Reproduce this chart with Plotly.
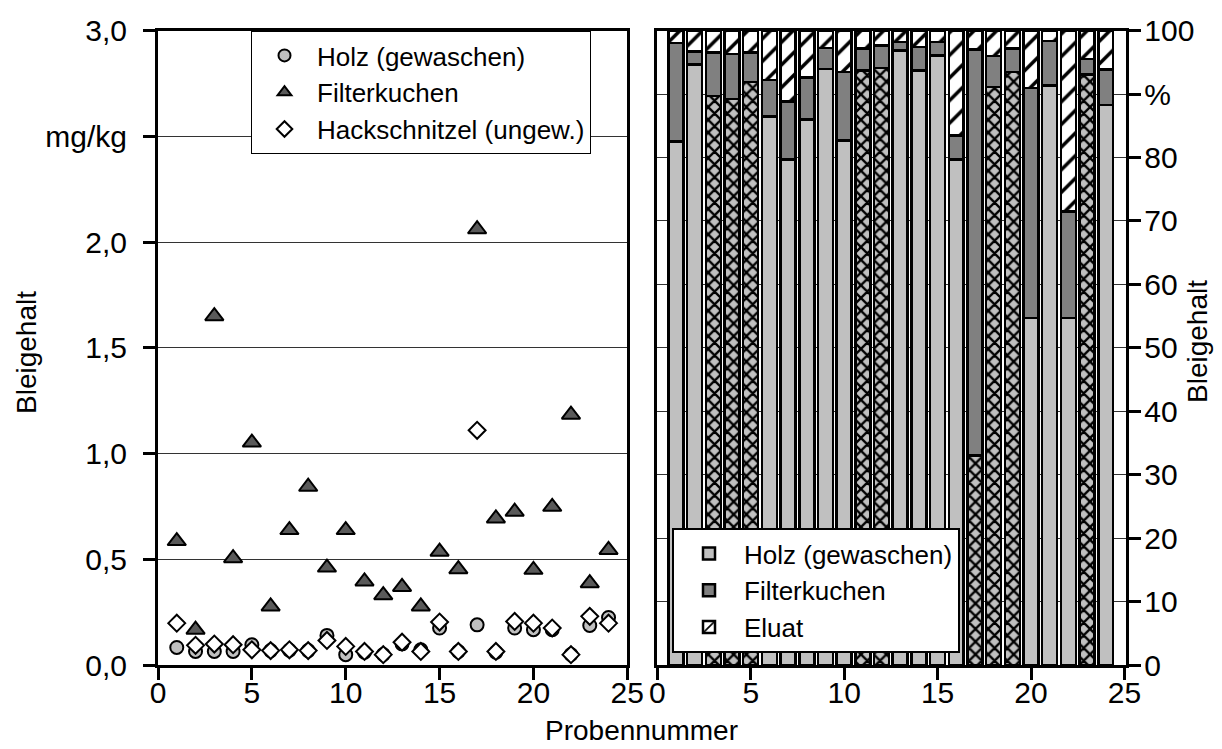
import plotly.graph_objects as go

# ---------------- data ----------------
proben = list(range(1, 25))

# left panel: Bleigehalt in mg/kg
holz_mgkg = [0.083, 0.064, 0.064, 0.064, 0.096, 0.068, 0.070, 0.068, 0.140, 0.049, 0.060, 0.050,
             0.100, 0.072, 0.175, 0.064, 0.190, 0.060, 0.175, 0.167, 0.167, 0.050, 0.187, 0.225]
filter_mgkg = [0.586, 0.167, 1.650, 0.505, 1.052, 0.277, 0.638, 0.843, 0.461, 0.638, 0.395, 0.330,
               0.369, 0.277, 0.536, 0.453, 2.061, 0.693, 0.725, 0.450, 0.748, 1.184, 0.387, 0.544]
hack_mgkg = [0.198, 0.093, 0.099, 0.096, 0.072, 0.068, 0.072, 0.068, 0.116, 0.088, 0.064, 0.049,
             0.108, 0.064, 0.203, 0.064, 1.110, 0.064, 0.206, 0.198, 0.175, 0.049, 0.230, 0.198]

# right panel: shares in %
holz_pct = [82.5, 94.7, 89.7, 89.2, 91.9, 86.5, 79.7, 86.0, 94.0, 82.7, 93.7, 94.1,
            96.9, 93.7, 96.1, 79.7, 33.0, 91.1, 93.5, 54.7, 91.4, 54.7, 93.1, 88.3]
filter_pct = [15.6, 2.0, 6.9, 7.1, 4.7, 5.7, 9.1, 6.6, 3.3, 10.8, 3.5, 3.6,
              1.3, 3.7, 2.1, 3.8, 64.0, 4.9, 3.7, 36.3, 7.0, 16.8, 2.4, 5.6]
eluat_pct = [1.9, 3.3, 3.4, 3.7, 3.4, 7.8, 11.2, 7.4, 2.7, 6.5, 2.8, 2.3,
             1.8, 2.6, 1.8, 16.5, 3.0, 4.0, 2.8, 9.0, 1.6, 28.5, 4.5, 6.1]
# samples whose wood share is drawn cross-hatched
kreuz = [3, 4, 5, 11, 12, 17, 18, 19, 23]

x_ticks = [0, 5, 10, 15, 20, 25]
left_yticks = [0, 0.5, 1.0, 1.5, 2.0, 2.5, 3.0]
left_ylabels = ["0,0", "0,5", "1,0", "1,5", "2,0", "mg/kg", "3,0"]
right_yticks = [0, 10, 20, 30, 40, 50, 60, 70, 80, 90, 100]
right_ylabels = ["0", "10", "20", "30", "40", "50", "60", "70", "80", "%", "100"]

# ---------------- styling ----------------
FONT = "Liberation Sans, Arial, sans-serif"
W, H = 1222, 749
LIGHT = "#c0c0c0"
MID = "#808080"
DARK = "#5a5a5a"

fig = go.Figure()

# left scatter
fig.add_trace(go.Scatter(x=proben, y=holz_mgkg, mode="markers", name="Holz (gewaschen)",
                         marker=dict(symbol="circle", size=13, color=LIGHT,
                                     line=dict(color="black", width=2)),
                         xaxis="x", yaxis="y", legend="legend"))
fig.add_trace(go.Scatter(x=proben, y=filter_mgkg, mode="markers", name="Filterkuchen",
                         marker=dict(symbol="triangle-up", size=16, color=DARK,
                                     line=dict(color="black", width=2)),
                         xaxis="x", yaxis="y", legend="legend"))
fig.add_trace(go.Scatter(x=proben, y=hack_mgkg, mode="markers", name="Hackschnitzel (ungew.)",
                         marker=dict(symbol="diamond", size=13, color="white",
                                     line=dict(color="black", width=2)),
                         xaxis="x", yaxis="y", legend="legend"))

# right stacked bars
holz_shape = ["x" if p in kreuz else "" for p in proben]
fig.add_trace(go.Bar(x=proben, y=holz_pct, name="Holz (gewaschen)", width=0.8,
                     marker=dict(color=LIGHT, line=dict(color="black", width=2.5),
                                 pattern=dict(shape=holz_shape, fgcolor="black", bgcolor=LIGHT,
                                              size=9, solidity=0.45)),
                     xaxis="x2", yaxis="y2", legend="legend2"))
fig.add_trace(go.Bar(x=proben, y=filter_pct, name="Filterkuchen", width=0.8,
                     marker=dict(color=MID, line=dict(color="black", width=2.5)),
                     xaxis="x2", yaxis="y2", legend="legend2"))
fig.add_trace(go.Bar(x=proben, y=eluat_pct, name="Eluat", width=0.8,
                     marker=dict(color="white", line=dict(color="black", width=2.5),
                                 pattern=dict(shape="/", fgcolor="black", bgcolor="white",
                                              size=16, solidity=0.22)),
                     xaxis="x2", yaxis="y2", legend="legend2"))

ydom = [(749 - 657) / 749, (749 - 22.7) / 749]
ax_common = dict(showline=True, linecolor="black", linewidth=3, mirror=True,
                 ticks="outside", ticklen=12, tickwidth=3, tickcolor="black",
                 tickfont=dict(family=FONT, size=30, color="black"),
                 zeroline=False, automargin=False, fixedrange=True)

fig.update_layout(
    width=W, height=H, template="none", barmode="stack", bargap=0.2,
    paper_bgcolor="white", plot_bgcolor="white",
    margin=dict(l=0, r=0, t=0, b=0),
    font=dict(family=FONT, color="black"),
    xaxis=dict(domain=[150 / W, 619.3 / W], range=[0, 25], tickvals=x_ticks,
               ticktext=[str(v) for v in x_ticks], showgrid=False, anchor="y",
               ticklabelstandoff=-13, **ax_common),
    yaxis=dict(domain=ydom, range=[0, 3], tickvals=left_yticks, ticktext=left_ylabels,
               showgrid=True, gridcolor="#333333", gridwidth=1, anchor="x",
               ticklabelstandoff=10, **ax_common),
    xaxis2=dict(domain=[649.3 / W, 1118.3 / W], range=[0, 25.1], tickvals=x_ticks,
                ticktext=[str(v) for v in x_ticks], showgrid=False, anchor="y2",
                ticklabelstandoff=-13, **ax_common),
    yaxis2=dict(domain=ydom, range=[0, 100], tickvals=right_yticks, ticktext=right_ylabels,
                side="right", showgrid=True, gridcolor="#333333", gridwidth=1, anchor="x2",
                ticklabelstandoff=-3, **ax_common),
    legend=dict(x=243 / W, y=1 - 23 / H, xanchor="left", yanchor="top",
                bgcolor="white", bordercolor="black", borderwidth=1,
                font=dict(family=FONT, size=26, color="black"),
                itemsizing="constant", itemwidth=55, tracegroupgap=0, traceorder="normal"),
    legend2=dict(x=664 / W, y=1 - 520 / H, xanchor="left", yanchor="top",
                 bgcolor="white", bordercolor="black", borderwidth=2,
                 font=dict(family=FONT, size=26, color="black"),
                 itemwidth=60, tracegroupgap=0, traceorder="normal"),
    annotations=[
        dict(text="Bleigehalt", x=18 / W, y=1 - 345 / H, xref="paper", yref="paper",
             xanchor="center", yanchor="middle",
             textangle=-90, showarrow=False, font=dict(family=FONT, size=28, color="black")),
        dict(text="Bleigehalt", x=1189 / W, y=1 - 334 / H, xref="paper", yref="paper",
             xanchor="center", yanchor="middle",
             textangle=-90, showarrow=False, font=dict(family=FONT, size=28, color="black")),
        dict(text="Probennummer", x=633 / W, y=1 - 722 / H, xref="paper", yref="paper",
             xanchor="center", yanchor="middle",
             showarrow=False, font=dict(family=FONT, size=28, color="black")),
    ],
)

fig.write_html("out.html")
